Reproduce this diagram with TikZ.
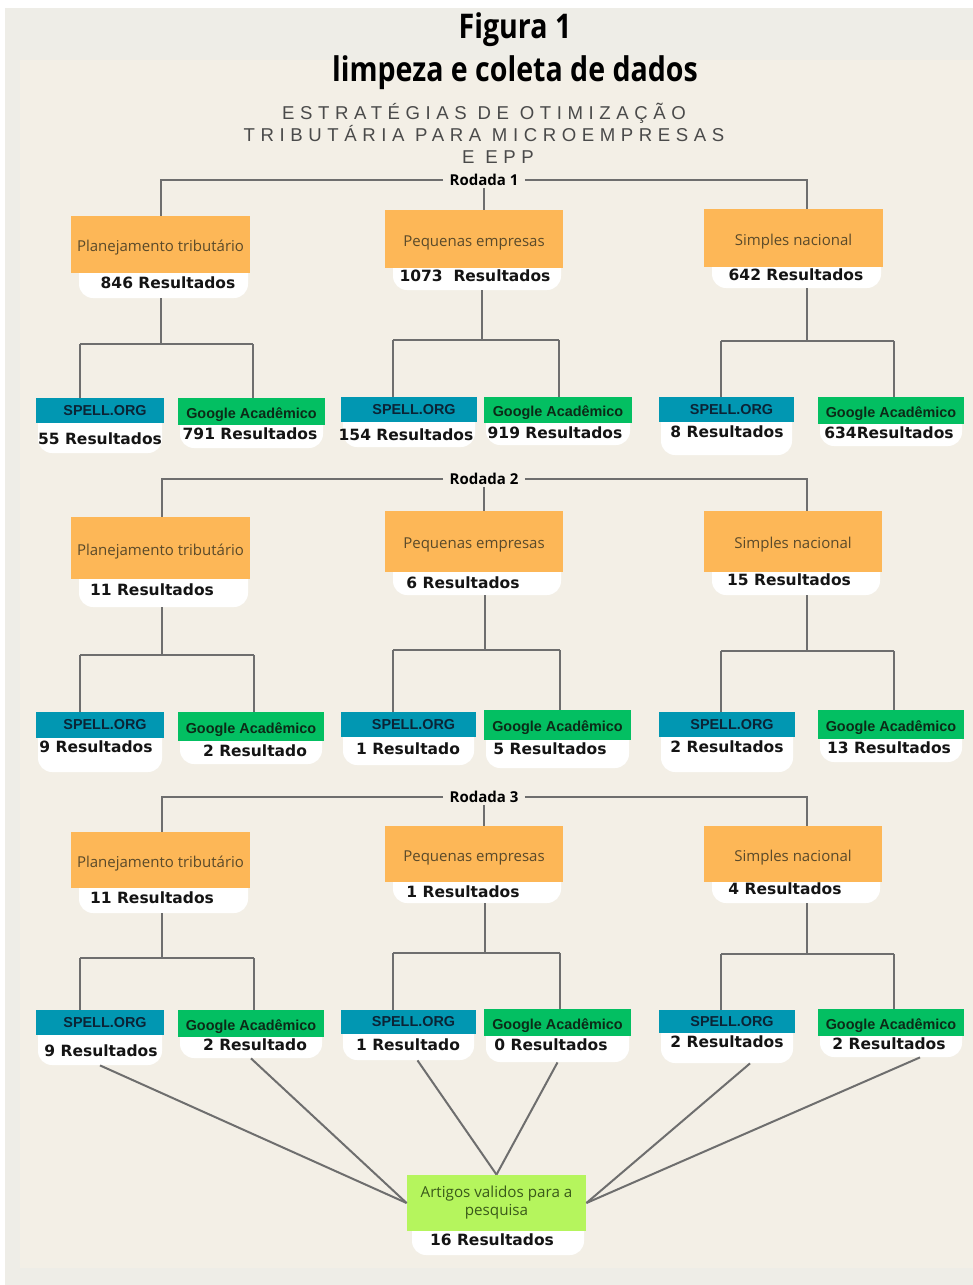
\documentclass[tikz,border=0pt]{standalone}
\usepackage{fontspec}
\usepackage{graphicx}
\usetikzlibrary{calc}
\setmainfont{Open Sans}
\newfontfamily\subfont{Liberation Sans}[LetterSpace=30]
\newfontfamily\resfont{DejaVu Sans}
\newfontfamily\leaffont{Liberation Sans}
\definecolor{outerc}{HTML}{EEEDE7}
\definecolor{panelc}{HTML}{F3EFE6}
\definecolor{orangec}{HTML}{FDB757}
\definecolor{bluec}{HTML}{0197B2}
\definecolor{greenc}{HTML}{03BF62}
\definecolor{limec}{HTML}{B5F55D}
\definecolor{linec}{HTML}{6E6E6E}
\definecolor{cattextc}{HTML}{5A4A2A}
\definecolor{spelltextc}{HTML}{0B2436}
\definecolor{googtextc}{HTML}{0C2A17}
\definecolor{restextc}{HTML}{141414}
\definecolor{fintextc}{HTML}{3A5A1A}
\definecolor{subc}{HTML}{4A4A4A}
\tikzset{
  conn/.style={draw=linec, line width=1pt},
  wbg/.style={fill=white, inner sep=0pt, rounded corners=7pt},
  catbx/.style={fill=orangec, inner sep=0pt, text=cattextc, text height=7.2pt, text depth=0pt, font={\fontsize{7.5}{9}\selectfont}},
  spellbx/.style={fill=bluec, inner sep=0pt, text=spelltextc, font={\leaffont\bfseries\fontsize{7.2}{8}\selectfont}},
  googbx/.style={fill=greenc, inner sep=0pt, text=googtextc, text height=6.5pt, text depth=0pt, font={\leaffont\bfseries\fontsize{7.2}{8}\selectfont}},
  finbx/.style={fill=limec, inner sep=0pt, text=fintextc, align=center, font={\fontsize{7.6}{9}\selectfont}},
  restext/.style={inner sep=0pt, text=restextc, font={\resfont\bfseries\fontsize{7.75}{9}\selectfont}},
  rodlabel/.style={fill=panelc, inner xsep=3pt, inner ysep=1pt, font={\bfseries\fontsize{7.5}{8}\selectfont}},
  titlef/.style={inner sep=0pt, anchor=base, font={\bfseries\fontsize{17}{20}\selectfont}},
  subt/.style={inner sep=0pt, anchor=base, text=subc, font={\subfont\fontsize{9.3}{10}\selectfont}},
}
% box node from pixel corners: #1 style, #2 name, #3 x1, #4 y1, #5 x2, #6 y2, #7 text
\newcommand\pbox[7]{%
  \pgfmathsetmacro\bw{((#5)-(#3))*0.5}%
  \pgfmathsetmacro\bh{((#6)-(#4))*0.5}%
  \pgfmathsetmacro\bx{((#3)+(#5))/2}%
  \pgfmathsetmacro\by{((#4)+(#6))/2}%
  \node[#1, minimum width=\bw pt, minimum height=\bh pt] (#2) at (\bx,\by) {#7};
}
% #1 name, #2 x1, #3 y1, #4 x2, #5 y2, #6 white bottom, #7 text
\newcommand\mkcat[7]{%
  \pbox{wbg}{#1w}{#2+8}{#3+30}{#4-2}{#6}{}%
  \pbox{catbx}{#1}{#2}{#3}{#4}{#5}{#7}%
}
% #1 name, #2 style, #3 x1, #4 y1, #5 x2, #6 y2, #7 white bottom, #8 text
\newcommand\mkleaf[8]{%
  \pbox{wbg}{#1w}{#3+2}{#4+12}{#5-2}{#7}{}%
  \pbox{#2}{#1}{#3}{#4}{#5}{#6}{#8}%
}
\newcommand\spelltxt{\hspace*{5pt}SPELL.ORG}
\newcommand\googtxt{Google Acadêmico}
% branch: #1 junction name, #2 x, #3 y, #4 xL, #5 xR, #6 parent white, #7 left leaf, #8 right leaf
\newcommand\mkbranch[8]{%
  \coordinate (#1) at (#2,#3);
  \coordinate (#1L) at (#4,#3);
  \coordinate (#1R) at (#5,#3);
  \draw[conn] (#6.south -| #1) -- (#1);
  \draw[conn] (#1L) -- (#1R);
  \draw[conn] (#1L) -- (#1L |- #7.north);
  \draw[conn] (#1R) -- (#1R |- #8.north);
}
\begin{document}
\begin{tikzpicture}[x=0.5pt,y=-0.5pt]
\useasboundingbox (0,0) rectangle (973,1285);
\fill[white] (0,0) rectangle (973,1285);
\fill[outerc] (5,8) rectangle (973,1285);
\fill[panelc] (20,60) rectangle (973,1268);

% titles
\node[titlef] (fig) at (515,39) {\scalebox{0.84}[1]{Figura 1}};
\node[titlef] (lim) at (515,81) {\scalebox{0.84}[1]{limpeza e coleta de dados}};
\node[subt] (sub1) at (484,119) {ESTRATÉGIAS DE OTIMIZAÇÃO};
\node[subt] (sub2) at (484,141) {TRIBUTÁRIA PARA MICROEMPRESAS};
\node[subt] (sub3) at (498,163) {E EPP};

% ---------------- Round 1
\node[rodlabel] (rod1) at (484,180) {Rodada 1};
\mkcat{r1a}{71}{216}{250}{273}{298}{Planejamento tributário}
\mkcat{r1b}{385}{210}{563}{268}{290}{Pequenas empresas}
\mkcat{r1c}{704}{209}{883}{267}{288}{Simples nacional}
\node[restext] (r1ar) at (168,283) {846 Resultados};
\node[restext] (r1br) at (475,276) {1073\ \ Resultados};
\node[restext] (r1cr) at (796,275) {642 Resultados};
\draw[conn] (rod1.west) -| (r1a.north);
\draw[conn] (rod1.south) -- (rod1.south |- r1b.north);
\draw[conn] (rod1.east) -| ([xshift=6.75pt]r1c.north);

\mkleaf{l1a1}{spellbx}{36}{398}{164}{423}{453}{\spelltxt}
\mkleaf{l1a2}{googbx}{178}{398}{325}{425}{448}{\googtxt}
\mkleaf{l1b1}{spellbx}{341}{397}{477}{422}{447}{\spelltxt}
\mkleaf{l1b2}{googbx}{484}{397}{632}{423}{445}{\googtxt}
\mkleaf{l1c1}{spellbx}{659}{397}{794}{422}{455}{\spelltxt}
\mkleaf{l1c2}{googbx}{818}{397}{964}{424}{446}{\googtxt}
\node[restext] (l1a1r) at (100,439) {55 Resultados};
\node[restext] (l1a2r) at (250,434) {791 Resultados};
\node[restext] (l1b1r) at (406,435) {154 Resultados};
\node[restext] (l1b2r) at (555,433) {919 Resultados};
\node[restext] (l1c1r) at (727,432) {8 Resultados};
\node[restext] (l1c2r) at (889,433) {634Resultados};
\mkbranch{j1a}{161}{344}{80}{253}{r1aw}{l1a1}{l1a2}
\mkbranch{j1b}{482}{340}{393}{559}{r1bw}{l1b1}{l1b2}
\mkbranch{j1c}{807}{341}{721}{894}{r1cw}{l1c1}{l1c2}

% ---------------- Round 2
\node[rodlabel] (rod2) at (484,479) {Rodada 2};
\mkcat{r2a}{71}{517}{250}{579}{607}{Planejamento tributário}
\mkcat{r2b}{385}{511}{563}{572}{595}{Pequenas empresas}
\mkcat{r2c}{704}{511}{882}{572}{595}{Simples nacional}
\node[restext] (r2ar) at (152,590) {11 Resultados};
\node[restext] (r2br) at (463,583) {6 Resultados};
\node[restext] (r2cr) at (789,580) {15 Resultados};
\draw[conn] (rod2.west) -| ([xshift=0.75pt]r2a.north);
\draw[conn] (rod2.south) -- (rod2.south |- r2b.north);
\draw[conn] (rod2.east) -| ([xshift=7pt]r2c.north);

\mkleaf{l2a1}{spellbx}{36}{712}{164}{738}{772}{\spelltxt}
\mkleaf{l2a2}{googbx}{178}{712}{324}{741}{764}{\googtxt}
\mkleaf{l2b1}{spellbx}{341}{712}{476}{737}{765}{\spelltxt}
\mkleaf{l2b2}{googbx}{484}{710}{631}{740}{768}{\googtxt}
\mkleaf{l2c1}{spellbx}{659}{712}{795}{737}{772}{\spelltxt}
\mkleaf{l2c2}{googbx}{818}{710}{964}{739}{762}{\googtxt}
\node[restext] (l2a1r) at (96,747) {9 Resultados};
\node[restext] (l2a2r) at (255,751) {2 Resultado};
\node[restext] (l2b1r) at (408,749) {1 Resultado};
\node[restext] (l2b2r) at (550,749) {5 Resultados};
\node[restext] (l2c1r) at (727,747) {2 Resultados};
\node[restext] (l2c2r) at (889,748) {13 Resultados};
\mkbranch{j2a}{162}{655}{80}{254}{r2aw}{l2a1}{l2a2}
\mkbranch{j2b}{485}{650}{393}{560}{r2bw}{l2b1}{l2b2}
\mkbranch{j2c}{807}{651}{721}{894}{r2cw}{l2c1}{l2c2}

% ---------------- Round 3
\node[rodlabel] (rod3) at (484,797) {Rodada 3};
\mkcat{r3a}{71}{832}{250}{888}{913}{Planejamento tributário}
\mkcat{r3b}{385}{826}{563}{882}{903}{Pequenas empresas}
\mkcat{r3c}{704}{826}{882}{882}{903}{Simples nacional}
\node[restext] (r3ar) at (152,898) {11 Resultados};
\node[restext] (r3br) at (463,892) {1 Resultados};
\node[restext] (r3cr) at (785,889) {4 Resultados};
\draw[conn] (rod3.west) -| ([xshift=0.75pt]r3a.north);
\draw[conn] (rod3.south) -- (rod3.south |- r3b.north);
\draw[conn] (rod3.east) -| ([xshift=7pt]r3c.north);

\mkleaf{l3a1}{spellbx}{36}{1010}{164}{1035}{1065}{\spelltxt}
\mkleaf{l3a2}{googbx}{178}{1010}{324}{1037}{1058}{\googtxt}
\mkleaf{l3b1}{spellbx}{341}{1010}{476}{1034}{1060}{\spelltxt}
\mkleaf{l3b2}{googbx}{484}{1009}{631}{1036}{1062}{\googtxt}
\mkleaf{l3c1}{spellbx}{659}{1010}{795}{1033}{1063}{\spelltxt}
\mkleaf{l3c2}{googbx}{818}{1009}{964}{1036}{1057}{\googtxt}
\node[restext] (l3a1r) at (101,1051) {9 Resultados};
\node[restext] (l3a2r) at (255,1045) {2 Resultado};
\node[restext] (l3b1r) at (408,1045) {1 Resultado};
\node[restext] (l3b2r) at (551,1045) {0 Resultados};
\node[restext] (l3c1r) at (727,1042) {2 Resultados};
\node[restext] (l3c2r) at (889,1044) {2 Resultados};
\mkbranch{j3a}{162}{958}{80}{254}{r3aw}{l3a1}{l3a2}
\mkbranch{j3b}{485}{953}{393}{560}{r3bw}{l3b1}{l3b2}
\mkbranch{j3c}{807}{954}{721}{894}{r3cw}{l3c1}{l3c2}

% ---------------- Final
\pbox{wbg}{finw}{412}{1200}{584}{1255}{}
\pbox{finbx}{fin}{407}{1175}{586}{1231}{Artigos validos para a\\pesquisa}
\node[restext] (finr) at (492,1240) {16 Resultados};
\draw[conn] (l3a1w.south) -- (fin.west);
\draw[conn] (l3a2w.south) -- (fin.west);
\draw[conn] ([xshift=4.5pt]l3b1w.south) -- (fin.north);
\draw[conn] (l3b2w.south) -- (fin.north);
\draw[conn] ([xshift=11.5pt]l3c1w.south) -- (fin.east);
\draw[conn] ([xshift=14.5pt]l3c2w.south) -- (fin.east);
\end{tikzpicture}
\end{document}
